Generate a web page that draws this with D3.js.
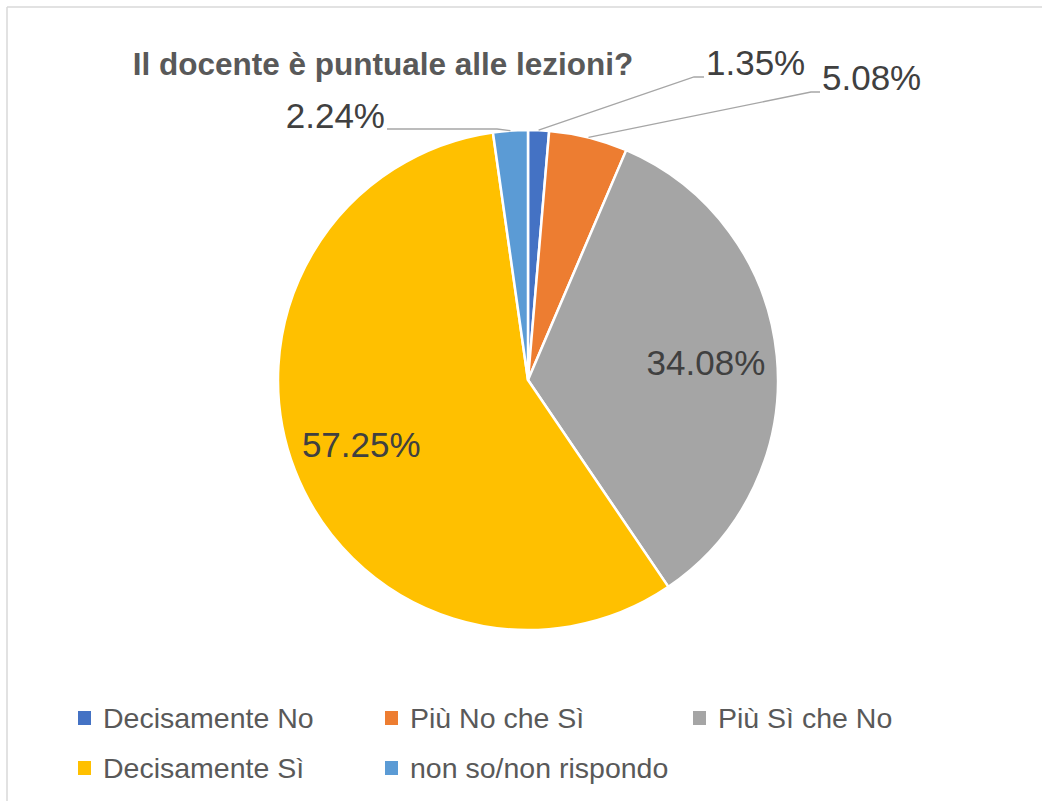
<!DOCTYPE html>
<html>
<head>
<meta charset="utf-8">
<script src="https://cdn.jsdelivr.net/npm/d3@7/dist/d3.min.js"></script>
<style>
  html, body { margin: 0; padding: 0; background: #fff; }
  svg { display: block; }
</style>
</head>
<body>
<svg id="chart" width="1042" height="801"></svg>
<script>
// ---- data ----
const title = "Il docente è puntuale alle lezioni?";
const categories = ["Decisamente No", "Più No che Sì", "Più Sì che No", "Decisamente Sì", "non so/non rispondo"];
const values = [1.35, 5.08, 34.08, 57.25, 2.24];
const labels = ["1.35%", "5.08%", "34.08%", "57.25%", "2.24%"];
const colors = ["#4472C4", "#ED7D31", "#A5A5A5", "#FFC000", "#5B9BD5"];

// ---- layout (positions/styles) ----
const W = 1042, H = 801;
const cx = 528, cy = 380, R = 250;
const labelFont = "'Liberation Sans', Arial, sans-serif";
// outside label placement
const outside = {
  0: {x: 706, y: 75, ex: 694, ey: 77, anchor: "start"},
  1: {x: 822, y: 90, ex: 811, ey: 92, anchor: "start"},
  4: {x: 385, y: 128, ex: 497, ey: 129, anchor: "end"}
};

const svg = d3.select("#chart");

// border (top & left)
svg.append("line").attr("x1", 7).attr("y1", 7).attr("x2", W).attr("y2", 7)
  .attr("stroke", "#d9d9d9").attr("stroke-width", 1.5);
svg.append("line").attr("x1", 7).attr("y1", 7).attr("x2", 7).attr("y2", H)
  .attr("stroke", "#d9d9d9").attr("stroke-width", 1.5);

// title
svg.append("text")
  .attr("x", 383).attr("y", 75)
  .attr("text-anchor", "middle")
  .attr("font-family", labelFont)
  .attr("font-weight", "bold")
  .attr("font-size", 31.5)
  .attr("fill", "#595959")
  .text(title);

const data = categories.map((c, i) => ({cat: c, value: values[i], label: labels[i], color: colors[i], i}));

const pie = d3.pie().value(d => d.value).sort(null);
const arcs = pie(data);
const arc = d3.arc().innerRadius(0).outerRadius(R);
const inArc = d3.arc().innerRadius(R * 0.715).outerRadius(R * 0.715);

const g = svg.append("g").attr("transform", `translate(${cx},${cy})`);

g.selectAll("path.slice").data(arcs).enter().append("path")
  .attr("class", "slice")
  .attr("d", arc)
  .attr("fill", d => d.data.color)
  .attr("stroke", "#fff")
  .attr("stroke-width", 2.5)
  .attr("stroke-linejoin", "round");

// labels
arcs.forEach(a => {
  const i = a.data.i;
  const mid = (a.startAngle + a.endAngle) / 2;
  if (outside[i]) {
    const o = outside[i];
    const px = cx + R * Math.sin(mid), py = cy - R * Math.cos(mid);
    const endX = o.anchor === "start" ? o.x - 2 : o.x + 2;
    svg.append("polyline")
      .attr("points", `${px},${py} ${o.ex},${o.ey} ${endX},${o.ey}`)
      .attr("fill", "none")
      .attr("stroke", "#a6a6a6")
      .attr("stroke-width", 1.3);
    svg.append("text")
      .attr("x", o.x).attr("y", o.y)
      .attr("text-anchor", o.anchor)
      .attr("font-family", labelFont)
      .attr("font-size", 35)
      .attr("fill", "#404040")
      .text(a.data.label);
  } else {
    const [x, y] = inArc.centroid(a);
    g.append("text")
      .attr("x", x).attr("y", y)
      .attr("text-anchor", "middle")
      .attr("dominant-baseline", "central")
      .attr("font-family", labelFont)
      .attr("font-size", 35)
      .attr("fill", "#404040")
      .text(a.data.label);
  }
});

// legend
const legendPos = [[78, 718], [385, 718], [693, 718], [78, 768], [385, 768]];
const lg = svg.append("g");
data.forEach((d, i) => {
  const [x, y] = legendPos[i];
  lg.append("rect").attr("x", x).attr("y", y - 7).attr("width", 13).attr("height", 14)
    .attr("fill", d.color);
  lg.append("text").attr("x", x + 25).attr("y", y)
    .attr("dominant-baseline", "central")
    .attr("font-family", labelFont)
    .attr("font-size", 28.5)
    .attr("fill", "#595959")
    .text(d.cat);
});
</script>
</body>
</html>
